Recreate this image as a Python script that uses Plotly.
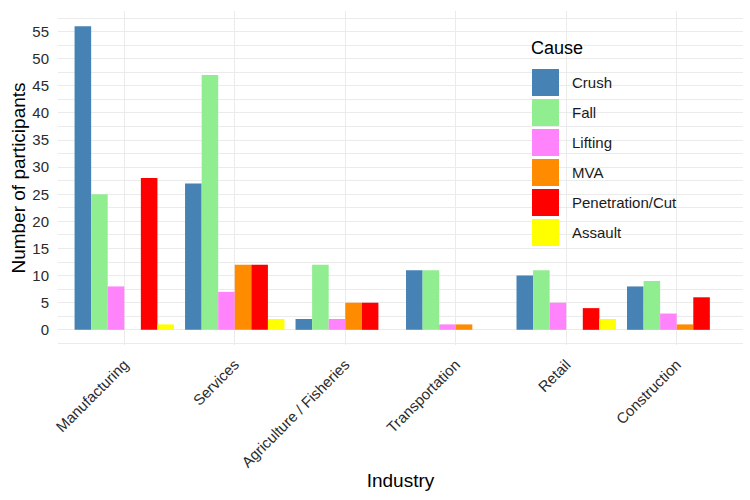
import plotly.graph_objects as go

industries = ["Manufacturing", "Services", "Agriculture / Fisheries",
              "Transportation", "Retail", "Construction"]
causes = ["Crush", "Fall", "Lifting", "MVA", "Penetration/Cut", "Assault"]
crush = [56, 27, 2, 11, 10, 8]
fall = [25, 47, 12, 11, 11, 9]
lifting = [8, 7, 2, 1, 5, 3]
mva = [0, 12, 5, 1, 0, 1]
penetration = [28, 12, 5, 0, 4, 6]
assault = [1, 2, 0, 0, 2, 0]
y_ticks = [0, 5, 10, 15, 20, 25, 30, 35, 40, 45, 50, 55]

series = [crush, fall, lifting, mva, penetration, assault]
colors = ["#4682B4", "#90EE90", "#FF83FA", "#FF8C00", "#FF0000", "#FFFF00"]

W, H = 750, 500
ML, MR, MT, MB = 58, 7, 11, 155
PW, PH = W - ML - MR, H - MT - MB

def px(x):
    return (x - ML) / PW

def py(y):
    return (H - MB - y) / PH

FONT = "Liberation Sans, Arial, sans-serif"
GRID = "#EBEBEB"
TICK = "#2b2b2b"

fig = go.Figure()
for name, vals, col in zip(causes, series, colors):
    fig.add_trace(go.Bar(x=industries, y=vals, name=name,
                         marker=dict(color=col, line=dict(width=0)),
                         showlegend=False))

shapes = []
annotations = []
# custom legend (ggplot style)
annotations.append(dict(xref="paper", yref="paper", x=px(529), y=py(48),
                        xanchor="left", yanchor="middle", text="Cause",
                        showarrow=False,
                        font=dict(family=FONT, size=18, color="#000000")))
for i, (name, col) in enumerate(zip(causes, colors)):
    top = 69 + 30 * i
    shapes.append(dict(type="rect", xref="paper", yref="paper",
                       x0=px(532), x1=px(559), y0=py(top), y1=py(top + 27),
                       fillcolor=col, line=dict(width=0)))
    annotations.append(dict(xref="paper", yref="paper", x=px(570),
                            y=py(top + 13.5), xanchor="left", yanchor="middle",
                            text=name, showarrow=False,
                            font=dict(family=FONT, size=15, color="#1a1a1a")))

fig.update_layout(
    width=W, height=H,
    margin=dict(l=ML, r=MR, t=MT, b=MB, autoexpand=False),
    paper_bgcolor="white", plot_bgcolor="white",
    barmode="group", bargap=0.1, bargroupgap=0,
    font=dict(family=FONT, color=TICK),
    shapes=shapes, annotations=annotations,
    xaxis=dict(
        range=[-0.6, 5.6], showgrid=True, gridcolor=GRID, gridwidth=1.1,
        tickangle=-45, tickfont=dict(size=15, color=TICK),
        ticks="outside", ticklen=4, tickcolor="rgba(0,0,0,0)",
        title=dict(text="Industry", font=dict(size=19, color="#000000"),
                   standoff=4),
        showline=False, zeroline=False, automargin=False,
    ),
    yaxis=dict(
        range=[-2.8, 58.8], tickvals=y_ticks,
        showgrid=True, gridcolor=GRID, gridwidth=1.1,
        minor=dict(dtick=2.5, tick0=0, showgrid=True, gridcolor=GRID,
                   gridwidth=0.55),
        tickfont=dict(size=15, color=TICK),
        ticks="outside", ticklen=5, tickcolor="rgba(0,0,0,0)",
        title=dict(text="Number of participants",
                   font=dict(size=19, color="#000000"), standoff=1),
        showline=False, zeroline=False, automargin=False,
    ),
)

fig.write_html("out.html")
